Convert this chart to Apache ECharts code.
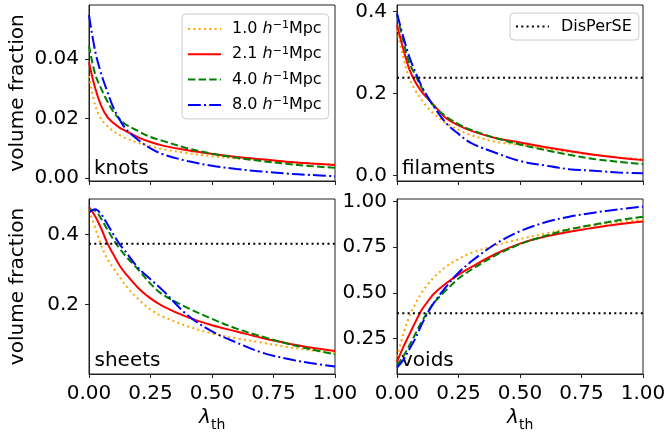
<!DOCTYPE html>
<html>
<head>
<meta charset="utf-8">
<script src="https://cdn.jsdelivr.net/npm/echarts@6.0.0/dist/echarts.min.js"></script>
<style>
  html, body { margin: 0; padding: 0; background: #fff; }
  #chart { width: 666px; height: 433px; }
</style>
</head>
<body>
<div id="chart"></div>
<script>
  // threshold values on the x axis
  const lam = [0, 0.025, 0.05, 0.075, 0.1, 0.125, 0.15, 0.2, 0.25, 0.3, 0.4, 0.5, 0.6, 0.7, 0.8, 0.9, 1.0]
  const sizeNames = ['1.0', '2.1', '4.0', '8.0']
  const panelNames = ['knots', 'filaments', 'sheets', 'voids']

  // knots
  const knots10 = [0.0343, 0.0245, 0.0198, 0.0175, 0.0157, 0.0144, 0.0134, 0.0118, 0.0107, 0.0097, 0.0084, 0.0073, 0.0066, 0.0060, 0.0054, 0.0049, 0.0045]
  const knots21 = [0.0389, 0.0303, 0.0242, 0.0205, 0.0185, 0.0169, 0.0158, 0.0137, 0.0121, 0.0109, 0.0093, 0.0081, 0.0071, 0.0063, 0.0055, 0.0049, 0.0044]
  const knots40 = [0.0446, 0.035, 0.030, 0.0258, 0.0222, 0.0198, 0.0180, 0.0158, 0.0138, 0.0125, 0.0100, 0.0082, 0.0068, 0.0057, 0.0048, 0.0040, 0.0034]
  const knots80 = [0.0549, 0.0428, 0.035, 0.029, 0.0235, 0.0196, 0.0165, 0.0128, 0.0100, 0.0080, 0.0057, 0.0041, 0.0030, 0.0022, 0.0015, 0.0010, 0.0006]
  // filaments
  const fil10 = [0.355, 0.290, 0.237, 0.208, 0.185, 0.166, 0.151, 0.128, 0.112, 0.099, 0.083, 0.075, 0.066, 0.058, 0.051, 0.045, 0.040]
  const fil21 = [0.368, 0.310, 0.260, 0.228, 0.205, 0.188, 0.172, 0.140, 0.123, 0.110, 0.092, 0.081, 0.070, 0.060, 0.051, 0.044, 0.038]
  const fil40 = [0.392, 0.330, 0.275, 0.245, 0.215, 0.190, 0.170, 0.144, 0.126, 0.112, 0.092, 0.076, 0.063, 0.051, 0.041, 0.034, 0.028]
  const fil80 = [0.396, 0.340, 0.290, 0.252, 0.218, 0.192, 0.168, 0.128, 0.102, 0.080, 0.056, 0.036, 0.025, 0.016, 0.012, 0.008, 0.006]
  // sheets
  const sheets10 = [0.469, 0.420, 0.368, 0.330, 0.303, 0.278, 0.253, 0.215, 0.185, 0.165, 0.137, 0.116, 0.102, 0.090, 0.078, 0.068, 0.059]
  const sheets21 = [0.479, 0.453, 0.417, 0.375, 0.342, 0.311, 0.287, 0.247, 0.217, 0.195, 0.163, 0.140, 0.122, 0.104, 0.089, 0.076, 0.066]
  const sheets40 = [0.472, 0.469, 0.445, 0.415, 0.385, 0.360, 0.338, 0.300, 0.259, 0.228, 0.190, 0.158, 0.130, 0.108, 0.088, 0.071, 0.056]
  const sheets80 = [0.464, 0.473, 0.458, 0.430, 0.400, 0.372, 0.350, 0.305, 0.272, 0.240, 0.169, 0.122, 0.090, 0.062, 0.044, 0.031, 0.021]
  // voids
  const voids10 = [0.15, 0.27, 0.37, 0.44, 0.50, 0.545, 0.585, 0.644, 0.685, 0.718, 0.760, 0.795, 0.825, 0.851, 0.872, 0.888, 0.900]
  const voids21 = [0.12, 0.20, 0.27, 0.34, 0.405, 0.452, 0.495, 0.552, 0.600, 0.640, 0.713, 0.770, 0.808, 0.835, 0.857, 0.876, 0.891]
  const voids40 = [0.10, 0.15, 0.21, 0.275, 0.34, 0.395, 0.445, 0.515, 0.578, 0.625, 0.705, 0.767, 0.812, 0.848, 0.874, 0.898, 0.918]
  const voids80 = [0.09, 0.13, 0.19, 0.25, 0.325, 0.39, 0.445, 0.534, 0.610, 0.670, 0.768, 0.838, 0.886, 0.918, 0.940, 0.958, 0.973]

  // DisPerSE reference fractions (none shown for knots)
  const disperse = [null, 0.239, 0.374, 0.387]

  // tick labels
  const knotsTicks = [0, 0.02, 0.04]
  const filTicks = [0, 0.2, 0.4]
  const sheetsTicks = [0.2, 0.4]
  const voidsTicks = [0.25, 0.5, 0.75, 1.0]

  const panelData = [
    [knots10, knots21, knots40, knots80],
    [fil10, fil21, fil40, fil80],
    [sheets10, sheets21, sheets40, sheets80],
    [voids10, voids21, voids40, voids80]
  ]
  const panelTicks = [knotsTicks, filTicks, sheetsTicks, voidsTicks]
  const tickDigits = [2, 1, 1, 2]
  const yRange = [[-0.00103, 0.0583], [-0.0129, 0.4163], [-0.0003, 0.5026], [0.054, 1.015]]

  const colors = ['#ffa500', '#ff0000', '#008000', '#0000ff']
  const dashes = [[2, 3.3], 'solid', [7.4, 3.2], [12.8, 3.2, 2, 3.2]]
  const font = 'DejaVu Sans'
  const spine = '#222'

  const grids = [
    { left: 89, top: 5, width: 246, height: 176 },
    { left: 397, top: 5, width: 246, height: 176 },
    { left: 89, top: 199, width: 246, height: 175 },
    { left: 397, top: 199, width: 246, height: 175 }
  ]

  let xAxis = []
  let yAxis = []
  let series = []
  for (let p = 0; p < 4; p++) {
    xAxis.push({
      type: 'value',
      gridIndex: p,
      min: 0,
      max: 1,
      interval: 0.25,
      axisLine: { show: true, onZero: false, lineStyle: { color: spine, width: 1 } },
      axisTick: { show: true, inside: false, length: 4, lineStyle: { color: spine } },
      axisLabel: {
        show: p >= 2,
        margin: 10,
        color: '#000',
        fontSize: 20,
        fontFamily: font,
        formatter: v => v.toFixed(2)
      },
      splitLine: { show: false }
    })
    yAxis.push({
      type: 'value',
      gridIndex: p,
      min: yRange[p][0],
      max: yRange[p][1],
      axisLine: { show: true, onZero: false, lineStyle: { color: spine, width: 1 } },
      axisTick: { show: true, inside: false, length: 4, customValues: panelTicks[p], lineStyle: { color: spine } },
      axisLabel: {
        margin: 10,
        color: '#000',
        fontSize: 20,
        fontFamily: font,
        customValues: panelTicks[p],
        formatter: v => v.toFixed(tickDigits[p])
      },
      splitLine: { show: false }
    })
    for (let s = 0; s < 4; s++) {
      series.push({
        type: 'line',
        name: sizeNames[s],
        xAxisIndex: p,
        yAxisIndex: p,
        data: lam.map((x, i) => [x, panelData[p][s][i]]),
        symbol: 'none',
        smooth: 0.35,
        silent: true,
        animation: false,
        lineStyle: { color: colors[s], width: 2, type: dashes[s] },
        itemStyle: { color: colors[s] }
      })
    }
    if (disperse[p] !== null) {
      series.push({
        type: 'line',
        name: 'DisPerSE',
        xAxisIndex: p,
        yAxisIndex: p,
        data: [[0, disperse[p]], [1, disperse[p]]],
        symbol: 'none',
        silent: true,
        animation: false,
        lineStyle: { color: '#000', width: 2, type: [2, 3.3] },
        itemStyle: { color: '#000' }
      })
    }
  }

  const legendText = {
    color: '#000',
    fontFamily: font,
    fontSize: 16,
    rich: {
      p: { fontSize: 16, fontFamily: font, lineHeight: 18, padding: [0, 0, 0, 6] },
      n: { fontSize: 16, fontFamily: font, lineHeight: 18 },
      i: { fontSize: 16, fontFamily: font, fontStyle: 'italic', lineHeight: 18 },
      s: { fontSize: 11, fontFamily: font, lineHeight: 11, verticalAlign: 'top' }
    }
  }
  // hide the symbol drawn in the middle of the legend line
  const noSymbol = { color: 'rgba(0,0,0,0)', borderColor: 'rgba(0,0,0,0)', borderWidth: 0 }

  const texts = []
  // y axis titles
  ;[93, 286.5].forEach(y => {
    texts.push({
      type: 'text', x: 18, y: y, rotation: Math.PI / 2,
      style: { text: 'volume fraction', fontSize: 20, fontFamily: font, fill: '#000', align: 'center', verticalAlign: 'middle' }
    })
  })
  // panel labels
  const labelPos = [[94, 169], [402, 169], [94.5, 361], [401, 361]]
  panelNames.forEach((t, i) => {
    texts.push({
      type: 'text', x: labelPos[i][0], y: labelPos[i][1],
      style: { text: t, fontSize: 20, fontFamily: font, fill: '#000', align: 'left', verticalAlign: 'middle' }
    })
  })
  // x axis titles: lambda_th
  ;[199, 507].forEach(x => {
    texts.push({
      type: 'text', x: x, y: 418,
      style: { text: 'λ', fontSize: 20, fontFamily: font, fontStyle: 'italic', fill: '#000', align: 'left', verticalAlign: 'middle' }
    })
    texts.push({
      type: 'text', x: x + 12, y: 425,
      style: { text: 'th', fontSize: 14, fontFamily: font, fill: '#000', align: 'left', verticalAlign: 'middle' }
    })
  })

  const option = {
    backgroundColor: '#fff',
    animation: false,
    grid: grids.map(g => Object.assign({
      show: true,
      borderColor: spine,
      borderWidth: 1,
      backgroundColor: 'transparent',
      containLabel: false,
      outerBoundsMode: 'none'
    }, g)),
    xAxis: xAxis,
    yAxis: yAxis,
    legend: [{
      data: sizeNames,
      orient: 'vertical',
      left: 182,
      top: 14,
      padding: [6, 7, 6, 5],
      itemWidth: 33,
      itemHeight: 14,
      itemGap: 8.3,
      borderColor: '#cccccc',
      borderWidth: 1,
      borderRadius: 4,
      backgroundColor: 'rgba(255,255,255,0.8)',
      selectedMode: false,
      itemStyle: noSymbol,
      formatter: name => `{p|${name} }{i|h}{s|−1}{n|Mpc}`,
      textStyle: legendText
    }, {
      data: ['DisPerSE'],
      orient: 'vertical',
      left: 510,
      top: 13,
      padding: [5.5, 7, 5.5, 5],
      itemWidth: 33,
      itemHeight: 14,
      borderColor: '#cccccc',
      borderWidth: 1,
      borderRadius: 4,
      backgroundColor: 'rgba(255,255,255,0.8)',
      selectedMode: false,
      itemStyle: noSymbol,
      formatter: name => `{p|${name}}`,
      textStyle: {
        color: '#000',
        fontFamily: font,
        fontSize: 16,
        rich: { p: { fontSize: 16, fontFamily: font, lineHeight: 18, padding: [0, 0, 0, 7] } }
      }
    }],
    graphic: texts,
    series: series
  }

  const myChart = echarts.init(document.getElementById('chart'), null, { renderer: 'canvas' })
  myChart.setOption(option)
</script>
</body>
</html>
